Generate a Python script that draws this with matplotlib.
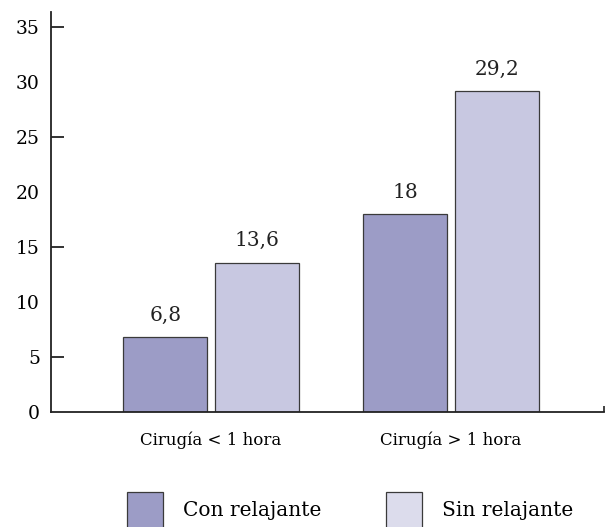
import numpy as np
import matplotlib
matplotlib.use('Agg')
import matplotlib.pyplot as plt
from matplotlib.patches import Patch
from matplotlib.ticker import MultipleLocator, FixedLocator

# Data
grupos = ['Cirugía < 1 hora', 'Cirugía > 1 hora']
series = ['Con relajante', 'Sin relajante']
con_relajante = [6.8, 18]
sin_relajante = [13.6, 29.2]
etiquetas_con = ['6,8', '18']
etiquetas_sin = ['13,6', '29,2']

color_con = '#9c9cc6'
color_sin = '#c8c8e1'
color_sin_leyenda = '#dcdcec'

plt.rcParams['font.family'] = ['DejaVu Serif']

fig = plt.figure(figsize=(6.05, 5.27), dpi=100)
ax = fig.add_axes([51 / 605, 115 / 527, 553 / 605, 400 / 527])

x = np.arange(len(grupos))
w = 0.35
off = 0.19
xmax = 1.6375

b1 = ax.bar(x - off, con_relajante, w, color=color_con, edgecolor='#3a3a3a', linewidth=0.9)
b2 = ax.bar(x + off, sin_relajante, w, color=color_sin, edgecolor='#3a3a3a', linewidth=0.9)

for bars, labs in ((b1, etiquetas_con), (b2, etiquetas_sin)):
    for rect, lab in zip(bars, labs):
        ax.annotate(lab, (rect.get_x() + rect.get_width() / 2, rect.get_height()),
                    textcoords='offset points', xytext=(0, 9), ha='center', va='bottom',
                    fontsize=14.5, color='#222222')

ax.set_xlim(-0.667, xmax)
ax.set_ylim(0, 36.4)

ax.set_xticks(x)
ax.set_xticklabels(grupos, fontsize=12)
ax.tick_params(axis='x', which='major', length=0, pad=14)
ax.xaxis.set_minor_locator(FixedLocator([xmax]))
ax.tick_params(axis='x', which='minor', direction='in', length=4, width=1.2, color='#222222')

ax.yaxis.set_major_locator(MultipleLocator(5))
ax.yaxis.set_minor_locator(FixedLocator([5, 15, 25, 35]))
ax.yaxis.remove_overlapping_locs = False
ax.tick_params(axis='y', which='major', length=0, pad=8, labelsize=13.5)
ax.tick_params(axis='y', which='minor', direction='in', length=9, width=1.3, color='#222222')

for s in ('top', 'right'):
    ax.spines[s].set_visible(False)
ax.spines['left'].set_linewidth(1.3)
ax.spines['bottom'].set_linewidth(1.3)
ax.spines['left'].set_color('#222222')
ax.spines['bottom'].set_color('#222222')

handles = [Patch(facecolor=color_con, edgecolor='#3a3a3a', linewidth=0.9),
           Patch(facecolor=color_sin_leyenda, edgecolor='#3a3a3a', linewidth=0.9)]
fig.legend(handles, series, loc='upper left', bbox_to_anchor=(127 / 605, 1 - 492 / 527),
           ncol=2, frameon=False, fontsize=14.5, handlelength=1.79, handleheight=2.37,
           handletextpad=1.0, columnspacing=3.18, borderpad=0, borderaxespad=0)

fig.savefig('out.png', dpi=100)
